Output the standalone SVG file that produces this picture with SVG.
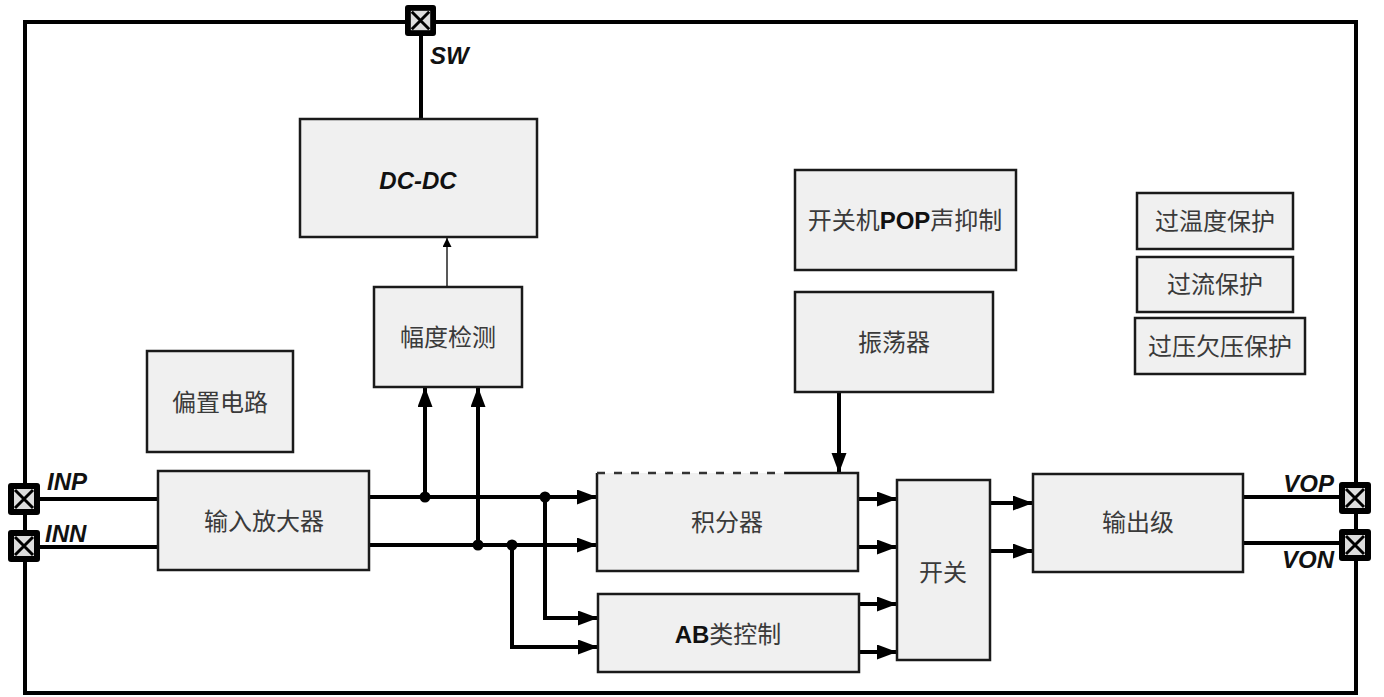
<svg xmlns="http://www.w3.org/2000/svg" width="1384" height="697" viewBox="0 0 1384 697">
<style>
.box{fill:#f0f0f0;stroke:#1a1a1a;stroke-width:2.5}
.t{font-family:"Liberation Sans","Noto Sans CJK SC",sans-serif;font-size:24px;fill:#3a3a3a;text-anchor:middle;dominant-baseline:central}
.b{font-weight:bold;fill:#111}
.lbl{font-family:"Liberation Sans",sans-serif;font-size:24px;font-weight:bold;font-style:italic;fill:#111}
.w{fill:none;stroke:#000;stroke-width:4}
.thin{fill:none;stroke:#222;stroke-width:1.5}
.dot{fill:#000}
.pin-o{fill:#000}
.pin-i{fill:#ddd}
.pin-x{stroke:#000;stroke-width:3}
</style>
<defs>
<marker id="ar" markerUnits="userSpaceOnUse" markerWidth="22" markerHeight="16" refX="20" refY="7.5" orient="auto"><path d="M0,0 L20,7.5 L0,15 z" fill="#000"/></marker>
<marker id="sa" markerUnits="userSpaceOnUse" markerWidth="10" markerHeight="10" refX="9" refY="4.5" orient="auto"><path d="M0,0 L9,4.5 L0,9 z" fill="#000"/></marker>
<symbol id="pin" viewBox="0 0 32 32"><rect x="0" y="0" width="32" height="32" rx="3" class="pin-o"/><rect x="6" y="6" width="20" height="20" class="pin-i"/><path d="M7,7 L25,25 M25,7 L7,25" class="pin-x"/></symbol>
</defs>
<rect x="0" y="0" width="1384" height="697" fill="#fff"/>
<rect id="frame" x="25" y="22" width="1331" height="671" fill="none" stroke="#000" stroke-width="4"/>

<g id="connectors">
<path class="w" d="M421,35 V119"/>
<path class="thin" d="M447,287 V238" marker-end="url(#sa)"/>
<path class="w" d="M40,499 H158"/>
<path class="w" d="M40,547 H158"/>
<path class="w" d="M369,497 H597" marker-end="url(#ar)"/>
<path class="w" d="M369,545 H597" marker-end="url(#ar)"/>
<path class="w" d="M425,497 V387" marker-end="url(#ar)"/>
<path class="w" d="M478,545 V387" marker-end="url(#ar)"/>
<path class="w" d="M545,497 V618 H598" marker-end="url(#ar)"/>
<path class="w" d="M512,545 V647 H598" marker-end="url(#ar)"/>
<path class="w" d="M839,392 V473" marker-end="url(#ar)"/>
<path class="w" d="M857,499 H897" marker-end="url(#ar)"/>
<path class="w" d="M857,547 H897" marker-end="url(#ar)"/>
<path class="w" d="M859,604 H897" marker-end="url(#ar)"/>
<path class="w" d="M859,652 H897" marker-end="url(#ar)"/>
<path class="w" d="M990,503 H1033" marker-end="url(#ar)"/>
<path class="w" d="M990,551 H1033" marker-end="url(#ar)"/>
<path class="w" d="M1243,497 H1339"/>
<path class="w" d="M1243,543 H1339"/>
<circle class="dot" cx="425" cy="497" r="5.5"/>
<circle class="dot" cx="478" cy="545" r="5.5"/>
<circle class="dot" cx="545" cy="497" r="5.5"/>
<circle class="dot" cx="512" cy="545" r="5.5"/>
</g>

<g id="pin-sw"><use href="#pin" x="405" y="5" width="31" height="31"/><text class="lbl" x="430" y="64">SW</text></g>
<g id="pin-inp"><use href="#pin" x="8" y="483" width="32" height="32"/><text class="lbl" x="47" y="490">INP</text></g>
<g id="pin-inn"><use href="#pin" x="8" y="530" width="32" height="32"/><text class="lbl" x="45" y="542">INN</text></g>
<g id="pin-vop"><use href="#pin" x="1339" y="482" width="32" height="32"/><text class="lbl" x="1334" y="492" text-anchor="end">VOP</text></g>
<g id="pin-von"><use href="#pin" x="1339" y="529" width="32" height="32"/><text class="lbl" x="1334" y="568" text-anchor="end">VON</text></g>

<g id="dcdc"><rect class="box" x="300" y="119" width="237" height="118"/><text class="t b" x="418" y="180" font-style="italic" font-size="26">DC-DC</text></g>
<g id="amp-detect"><rect class="box" x="374" y="287" width="148" height="100"/><text class="t" x="448" y="337">幅度检测</text></g>
<g id="bias"><rect class="box" x="147" y="351" width="146" height="101"/><text class="t" x="220" y="402">偏置电路</text></g>
<g id="input-amp"><rect class="box" x="158" y="471" width="211" height="99"/><text class="t" x="264" y="521">输入放大器</text></g>
<g id="integrator"><rect x="597" y="473" width="261" height="98" fill="#f0f0f0"/><path d="M785,473 H858 V571 H597 V473" fill="none" stroke="#1a1a1a" stroke-width="2.5"/><path d="M597,473 H785" fill="none" stroke="#333" stroke-width="2.5" stroke-dasharray="8,9"/><text class="t" x="727" y="522">积分器</text></g>
<g id="ab-ctrl"><rect class="box" x="598" y="594" width="261" height="78"/><text class="t" x="728" y="634"><tspan class="b">AB</tspan>类控制</text></g>
<g id="switch"><rect class="box" x="897" y="480" width="93" height="180"/><text class="t" x="943" y="572">开关</text></g>
<g id="output"><rect class="box" x="1033" y="474" width="210" height="98"/><text class="t" x="1138" y="522">输出级</text></g>
<g id="pop"><rect class="box" x="795" y="170" width="221" height="100"/><text class="t" x="905" y="220">开关机<tspan class="b">POP</tspan>声抑制</text></g>
<g id="osc"><rect class="box" x="795" y="292" width="198" height="100"/><text class="t" x="894" y="342">振荡器</text></g>
<g id="otp"><rect class="box" x="1137" y="193" width="156" height="56"/><text class="t" x="1215" y="221">过温度保护</text></g>
<g id="ocp"><rect class="box" x="1137" y="257" width="156" height="55"/><text class="t" x="1215" y="284">过流保护</text></g>
<g id="ovp"><rect class="box" x="1135" y="318" width="170" height="56"/><text class="t" x="1220" y="346">过压欠压保护</text></g>
</svg>
